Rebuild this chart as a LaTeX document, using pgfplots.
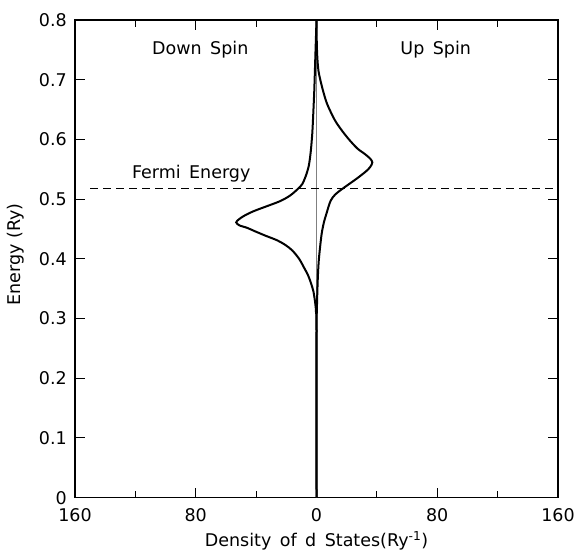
\documentclass[border=0pt]{standalone}
\usepackage{pgfplots}
\pgfplotsset{compat=1.18}
\usepackage{fontspec}
\setmainfont{DejaVu Sans}

% Spin-resolved d-band density of states (Ry^-1) vs energy (Ry)
\begin{document}
\begin{tikzpicture}[font=\fontsize{17.5}{21}\selectfont]
\useasboundingbox (-75pt,-55pt) rectangle (500pt,497.7pt);
\begin{axis}[
  at={(0,0)}, anchor=south west,
  scale only axis, width=483pt, height=477.7pt,
  xmin=-160, xmax=160, ymin=0, ymax=0.8,
  /pgf/number format/assume math mode=true,
  xtick={-160,-80,0,80,160},
  xticklabels={160,80,0,80,160},
  minor xtick={-120,-40,40,120},
  ytick={0,0.1,0.2,0.3,0.4,0.5,0.6,0.7,0.8},
  yticklabels={0,0.1,0.2,0.3,0.4,0.5,0.6,0.7,0.8},
  tick align=inside,
  major tick length=10pt, minor tick length=7pt,
  tick style={black, line width=1pt},
  axis line style={line width=1.2pt},
  xticklabel style={anchor=center, yshift=-17pt},
  yticklabel style={anchor=east, inner sep=0pt, xshift=-8pt},
  xlabel={Density \,of\, d \,States(Ry\textsuperscript{-1})},
  ylabel={Energy (Ry)},
  xlabel style={at={(axis description cs:0.5,0)}, anchor=center, yshift=-43pt},
  ylabel style={at={([xshift=-59pt]axis description cs:0,0.509)}, anchor=center},
  clip=true,
]
% zero line
\addplot[gray, line width=0.5pt] coordinates {(0,0) (0,0.8)};
% Fermi level
\addplot[black, line width=1pt, dash pattern=on 8pt off 5pt] coordinates {(-150,0.517) (160,0.517)};
% up spin
\addplot[black, line width=2pt, smooth, tension=0.5] coordinates {
(0,0) (0,0.28) (0.2,0.31) (0.5,0.34) (0.9,0.37) (1.5,0.397) (2.6,0.425)
(3.6,0.445) (5.0,0.462) (6.5,0.475) (9.3,0.497) (12.5,0.508) (17,0.517)
(22,0.526) (27.5,0.536) (33,0.547) (35.6,0.554) (37,0.5615) (35.5,0.568)
(32,0.5756) (27,0.585) (21.5,0.600) (16.5,0.616) (12,0.633) (7.1,0.659)
(4.5,0.680) (2.5,0.700) (1.3,0.715) (0.6,0.735) (0.2,0.76) (0,0.8)
};
% down spin
\addplot[black, line width=2pt, smooth, tension=0.5] coordinates {
(0,0) (0,0.28) (-0.3,0.31) (-0.8,0.325) (-2,0.345) (-3.5,0.358) (-5.5,0.372)
(-8.4,0.386) (-11.5,0.400) (-16,0.414) (-20.5,0.423) (-26,0.431) (-34,0.439)
(-41.5,0.447) (-46,0.452) (-51,0.456) (-53.2,0.461) (-51.5,0.466) (-48,0.472)
(-41.5,0.480) (-32,0.489)
(-23.8,0.497) (-17.5,0.506) (-12.4,0.517) (-9.5,0.525) (-7.2,0.538) (-5.1,0.556)
(-3.8,0.58) (-2.8,0.61) (-2.2,0.64) (-1.5,0.68) (-1.0,0.72) (-0.5,0.76) (0,0.8)
};
\node at (axis cs:-77,0.751) {Down \,Spin};
\node at (axis cs:79,0.75) {Up \,Spin};
\node at (axis cs:-83,0.542) {Fermi \,Energy};
\end{axis}
\end{tikzpicture}
\end{document}
